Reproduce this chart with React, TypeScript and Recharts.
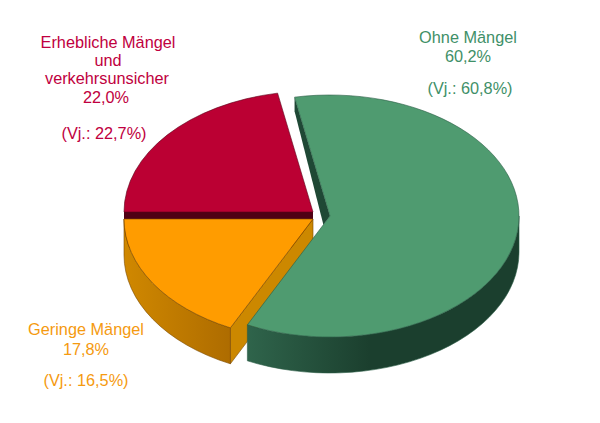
import React from 'react';
import { PieChart, Pie, Cell } from 'recharts';

const categories = ['Erhebliche Mängel und verkehrsunsicher', 'Geringe Mängel', 'Ohne Mängel'];
const shares = [22.0, 17.8, 60.2];
const shareLabels = ['22,0%', '17,8%', '60,2%'];
const previousLabels = ['(Vj.: 22,7%)', '(Vj.: 16,5%)', '(Vj.: 60,8%)'];

const TOP_COLORS = ['#bb0033', '#ff9c00', '#4f9b70'];
const EDGE_COLORS = ['#5a0018', '#7a4a00', '#2a5c44'];
const TEXT_COLORS = ['#c00040', '#f59a10', '#3f9068'];
// wall shading, left to right
const WALL_STOPS = [
  ['#4f0014', '#4f0014'],
  ['#d08800', '#ae6c00'],
  ['#2f644b', '#1b3f2e'],
];
const FLAT_WALLS = ['#4f0014', '#cc8800', '#1f4835'];

// how far each slice is pulled out of the pie
const OFFSETS = [
  [-7, -3],
  [-7, 4],
  [10, 1],
];

const SQUASH = 121 / 189;
const DEPTH = 36;
const GREEN_INNER_DEPTH = 14;

const SliceShape = (props: any) => {
  const { cx, cy, outerRadius, startAngle, endAngle, index } = props;
  const i = index ?? 0;
  const lo = Math.min(startAngle, endAngle);
  const hi = Math.max(startAngle, endAngle);
  const ox = cx + OFFSETS[i][0];
  const oy = cy + OFFSETS[i][1];
  const rx = outerRadius;
  const ry = outerRadius * SQUASH;
  const pt = (deg: number, drop = 0) => {
    const r = (deg * Math.PI) / 180;
    return [ox + rx * Math.cos(r), oy - ry * Math.sin(r) + drop];
  };
  const xy = (p: number[]) => `${p[0].toFixed(2)} ${p[1].toFixed(2)}`;

  const top = `M${ox} ${oy} L${xy(pt(lo))} A${rx} ${ry} 0 ${hi - lo > 180 ? 1 : 0} 0 ${xy(pt(hi))} Z`;

  // rim is only seen on the front half of the ellipse
  const frontLo = Math.max(lo, 180);
  const frontHi = Math.min(hi, 360);
  const rim =
    frontHi > frontLo
      ? `M${xy(pt(frontLo))} A${rx} ${ry} 0 0 0 ${xy(pt(frontHi))} L${xy(pt(frontHi, DEPTH))} A${rx} ${ry} 0 0 1 ${xy(pt(frontLo, DEPTH))} Z`
      : null;

  const gradId = `wall-${i}`;
  const stroke = EDGE_COLORS[i];
  const strokeProps = { stroke, strokeWidth: 0.6, strokeLinejoin: 'round' as const };

  let cutWall = null;
  if (i === 0) {
    // flat cut at the left, mostly hidden by the orange slice
    const a = pt(hi);
    cutWall = <path d={`M${xy(a)} L${ox} ${oy} L${ox} ${oy + DEPTH} L${a[0]} ${a[1] + DEPTH} Z`} fill={FLAT_WALLS[i]} />;
  }
  if (i === 1) {
    const b = pt(hi);
    cutWall = (
      <path
        d={`M${ox} ${oy} L${xy(b)} L${b[0]} ${b[1] + DEPTH} L${ox} ${oy + DEPTH} Z`}
        fill={FLAT_WALLS[i]}
        {...strokeProps}
      />
    );
  }
  if (i === 2) {
    const a = pt(hi);
    const e = pt(lo);
    const t = 0.08;
    const foot = [ox + (e[0] - ox) * t, oy + (e[1] - oy) * t];
    cutWall = (
      <path
        d={`M${xy(a)} L${a[0]} ${a[1] + GREEN_INNER_DEPTH} L${xy(foot)} L${ox} ${oy} Z`}
        fill={FLAT_WALLS[i]}
      />
    );
  }

  return (
    <g>
      <defs>
        <linearGradient id={gradId} x1="0" y1="0" x2="1" y2="0">
          <stop offset="0%" stopColor={WALL_STOPS[i][0]} />
          <stop offset={i === 2 ? '45%' : '100%'} stopColor={WALL_STOPS[i][1]} />
        </linearGradient>
      </defs>
      {cutWall}
      {rim && <path d={rim} fill={`url(#${gradId})`} {...strokeProps} />}
      <path d={top} fill={TOP_COLORS[i]} {...strokeProps} />
    </g>
  );
};

const chartData = categories.map((name, i) => ({ name, value: shares[i] }));

const labelStyle = {
  fontFamily: '"Liberation Sans", Arial, sans-serif',
  fontSize: 16.3,
  textAnchor: 'middle' as const,
};

const App = () => {
  return (
    <div style={{ position: 'absolute', left: 0, top: 0, width: 600, height: 423, background: '#fff' }}>
      <PieChart width={600} height={423} margin={{ top: 0, right: 0, bottom: 0, left: 0 }}>
        <Pie
          data={chartData}
          dataKey="value"
          nameKey="name"
          cx={320}
          cy={215}
          outerRadius={189}
          startAngle={100.8}
          endAngle={460.8}
          paddingAngle={0}
          stroke="none"
          shape={SliceShape}
          isAnimationActive={false}
        >
          {chartData.map((entry) => (
            <Cell key={entry.name} />
          ))}
        </Pie>

        <g style={labelStyle} fill={TEXT_COLORS[0]}>
          <text x={108} y={48}>Erhebliche Mängel</text>
          <text x={108} y={66}>und</text>
          <text x={107} y={84}>verkehrsunsicher</text>
          <text x={106} y={103}>{shareLabels[0]}</text>
          <text x={104} y={139}>{previousLabels[0]}</text>
        </g>
        <g style={labelStyle} fill={TEXT_COLORS[1]}>
          <text x={86} y={335}>{categories[1]}</text>
          <text x={86} y={355}>{shareLabels[1]}</text>
          <text x={86} y={386}>{previousLabels[1]}</text>
        </g>
        <g style={labelStyle} fill={TEXT_COLORS[2]}>
          <text x={468} y={43}>{categories[2]}</text>
          <text x={468} y={62}>{shareLabels[2]}</text>
          <text x={470} y={94}>{previousLabels[2]}</text>
        </g>
      </PieChart>
    </div>
  );
};

export default App;
